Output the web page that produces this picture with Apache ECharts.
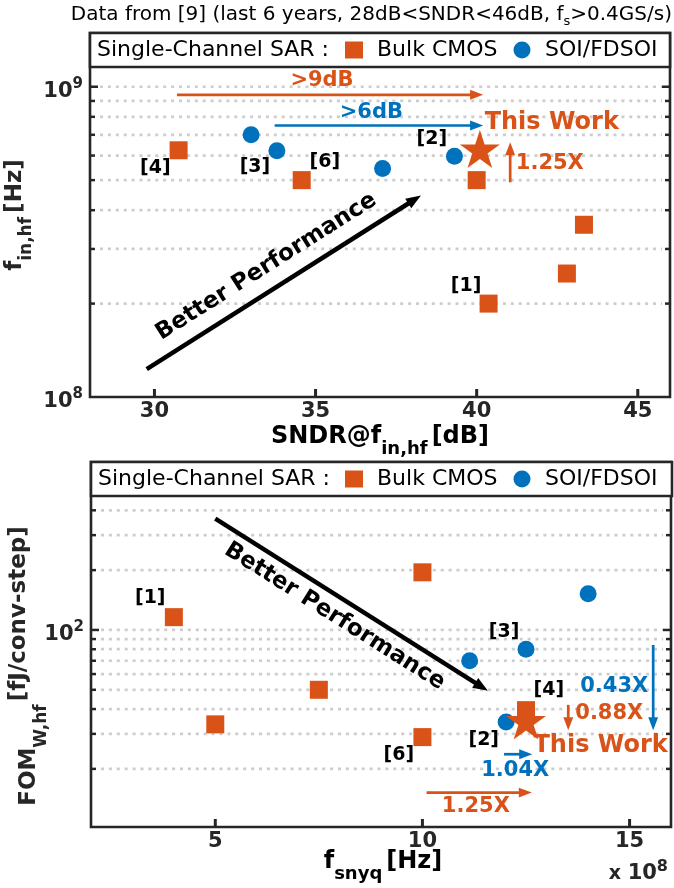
<!DOCTYPE html>
<html>
<head>
<meta charset="utf-8">
<script src="https://cdn.jsdelivr.net/npm/echarts@6/dist/echarts.min.js"></script>
<style>
  html, body { margin: 0; padding: 0; background: #fff; }
  #chart { width: 674px; height: 888px; }
</style>
</head>
<body>
<div id="chart"></div>
<script>
// top panel: f_in,hf [Hz] vs SNDR@f_in,hf [dB]
const topBulkSndr = [30.75, 34.57, 40.0, 43.33, 42.8, 40.37];
const topBulkFin  = [6.24e8, 5.0e8, 5.0e8, 3.59e8, 2.5e8, 2.0e8];
const topSoiSndr  = [33.0, 33.8, 37.08, 39.31];
const topSoiFin   = [7.0e8, 6.22e8, 5.45e8, 5.97e8];
const topWorkSndr = [40.1];
const topWorkFin  = [6.3e8];
const topXTicks   = [30, 35, 40, 45];
const topYGrid    = [2e8, 3e8, 4e8, 5e8, 6e8, 7e8, 8e8, 9e8, 1e9];

// bottom panel: FOM_W,hf [fJ/conv-step] vs f_snyq [Hz]
const botBulkFs  = [4.0e8, 10e8, 7.5e8, 5.0e8, 10e8, 12.5e8];
const botBulkFom = [116, 195, 50, 33.5, 28.9, 39.5];
const botSoiFs   = [14.0e8, 12.5e8, 11.14e8, 12.02e8];
const botSoiFom  = [152, 80, 70, 34.4];
const botWorkFs  = [12.5e8];
const botWorkFom = [35];
const botXTicks  = [5e8, 10e8, 15e8];
const botYGrid   = [20, 30, 40, 50, 60, 70, 80, 90, 100, 200, 300, 400];

const ORANGE = '#D95319';
const BLUE = '#0072BD';
const INK = '#262626';
const FONT = 'DejaVu Sans';
const STAR = 'path://M50 0L61.23 34.55L97.55 34.55L68.17 55.9L79.39 90.45L50 69.1L20.61 90.45L31.83 55.9L2.45 34.55L38.77 34.55Z';

// annotations (data coordinates)
const topArrows = [
  { from: [30.7, 9.42e8], to: [40.2, 9.42e8], color: ORANGE, width: 2.7, head: 13 },
  { from: [33.73, 7.5e8], to: [40.2, 7.5e8], color: BLUE, width: 2.7, head: 13 },
  { from: [41.04, 4.92e8], to: [41.04, 6.62e8], color: ORANGE, width: 2.7, head: 13 },
  { from: [29.76, 1.23e8], to: [38.27, 4.46e8], color: '#000', width: 4.5, head: 15 }
];
const topTexts = [
  { at: [35.2, 1.05e9], text: '>9dB', color: ORANGE, size: 21 },
  { at: [36.73, 8.24e8], text: '>6dB', color: BLUE, size: 21 },
  { at: [42.33, 7.66e8], text: 'This Work', color: ORANGE, size: 24 },
  { at: [42.27, 5.65e8], text: '1.25X', color: ORANGE, size: 21 },
  { at: [33.47, 2.63e8], text: 'Better Performance', color: '#000', size: 23, along: 3 },
  { at: [30.03, 5.47e8], text: '[4]', color: '#000', size: 19 },
  { at: [33.12, 5.5e8], text: '[3]', color: '#000', size: 19 },
  { at: [35.29, 5.72e8], text: '[6]', color: '#000', size: 19 },
  { at: [38.61, 6.76e8], text: '[2]', color: '#000', size: 19 },
  { at: [39.67, 2.285e8], text: '[1]', color: '#000', size: 19 }
];
const botArrows = [
  { from: [5.0e8, 363], to: [11.58e8, 49.4], color: '#000', width: 4.5, head: 15 },
  { from: [11.97e8, 23.7], to: [12.65e8, 23.7], color: BLUE, width: 2.7, head: 13 },
  { from: [10.1e8, 15.2], to: [12.64e8, 15.2], color: ORANGE, width: 2.7, head: 13 },
  { from: [13.52e8, 42], to: [13.52e8, 31.3], color: ORANGE, width: 2.7, head: 13 },
  { from: [15.57e8, 84], to: [15.57e8, 31.3], color: BLUE, width: 2.7, head: 13 }
];
const botTexts = [
  { at: [14.3e8, 26.2], text: 'This Work', color: ORANGE, size: 24 },
  { at: [12.24e8, 19.6], text: '1.04X', color: BLUE, size: 21 },
  { at: [11.29e8, 12.9], text: '1.25X', color: ORANGE, size: 21 },
  { at: [14.51e8, 37.8], text: '0.88X', color: ORANGE, size: 21 },
  { at: [14.63e8, 51.8], text: '0.43X', color: BLUE, size: 21 },
  { at: [7.88e8, 117], text: 'Better Performance', color: '#000', size: 23, along: 0 },
  { at: [3.43e8, 144], text: '[1]', color: '#000', size: 19 },
  { at: [11.97e8, 98], text: '[3]', color: '#000', size: 19 },
  { at: [13.05e8, 49.8], text: '[4]', color: '#000', size: 19 },
  { at: [11.48e8, 28], text: '[2]', color: '#000', size: 19 },
  { at: [9.43e8, 23.4], text: '[6]', color: '#000', size: 19 }
];

function zip(xs, ys) {
  return xs.map((x, i) => [x, ys[i]]);
}

function isPow10(v) {
  const e = Math.log10(v);
  return Math.abs(e - Math.round(e)) < 1e-6;
}

// dotted minor grid + inside ticks on both sides
function yGridSeries(idx, xMin, values) {
  return {
    type: 'custom', xAxisIndex: idx, yAxisIndex: idx, z: 1, silent: true, clip: false,
    data: values.map(v => [xMin, v]),
    renderItem: (params, api) => {
      const v = api.value(1);
      const y = api.coord([api.value(0), v])[1];
      const cs = params.coordSys;
      const len = isPow10(v) ? 8 : 5;
      const right = cs.x + cs.width;
      return {
        type: 'group',
        children: [
          { type: 'line', shape: { x1: cs.x + 10, y1: y, x2: right - 8, y2: y },
            style: { stroke: '#cdcdcd', lineWidth: 2.7, lineDash: [3, 4.9] } },
          { type: 'line', shape: { x1: cs.x, y1: y, x2: cs.x + len, y2: y },
            style: { stroke: INK, lineWidth: 2.5 } },
          { type: 'line', shape: { x1: right - len, y1: y, x2: right, y2: y },
            style: { stroke: INK, lineWidth: 2.5 } }
        ]
      };
    }
  };
}

function xTickSeries(idx, yMin, values) {
  return {
    type: 'custom', xAxisIndex: idx, yAxisIndex: idx, z: 1, silent: true, clip: false,
    data: values.map(v => [v, yMin]),
    renderItem: (params, api) => {
      const x = api.coord([api.value(0), api.value(1)])[0];
      const cs = params.coordSys;
      const b = cs.y + cs.height;
      return { type: 'line', shape: { x1: x, y1: b, x2: x, y2: b - 8 },
        style: { stroke: INK, lineWidth: 3 } };
    }
  };
}

function arrowSeries(idx, arrows) {
  return {
    type: 'custom', xAxisIndex: idx, yAxisIndex: idx, z: 5, silent: true, clip: false,
    data: arrows.map(a => a.from),
    renderItem: (params, api) => {
      const a = arrows[params.dataIndex];
      const p1 = api.coord(a.from);
      const p2 = api.coord(a.to);
      const dx = p2[0] - p1[0], dy = p2[1] - p1[1];
      const len = Math.hypot(dx, dy);
      const ux = dx / len, uy = dy / len;
      const w = a.head * 0.38;
      const bx = p2[0] - ux * a.head, by = p2[1] - uy * a.head;
      return {
        type: 'group',
        children: [
          { type: 'line', shape: { x1: p1[0], y1: p1[1], x2: bx + ux * 2, y2: by + uy * 2 },
            style: { stroke: a.color, lineWidth: a.width } },
          { type: 'polygon',
            shape: { points: [[p2[0], p2[1]], [bx - uy * w, by + ux * w], [bx + uy * w, by - ux * w]] },
            style: { fill: a.color } }
        ]
      };
    }
  };
}

function textSeries(idx, texts, arrows) {
  return {
    type: 'custom', xAxisIndex: idx, yAxisIndex: idx, z: 6, silent: true, clip: false,
    data: texts.map(t => t.at),
    renderItem: (params, api) => {
      const t = texts[params.dataIndex];
      const p = api.coord(t.at);
      let rot = 0;
      if (t.along != null) {
        const a = arrows[t.along];
        const p1 = api.coord(a.from), p2 = api.coord(a.to);
        rot = -Math.atan2(p2[1] - p1[1], p2[0] - p1[0]);
      }
      return {
        type: 'text', x: p[0], y: p[1], rotation: rot,
        style: { text: t.text, fill: t.color, fontSize: t.size, fontWeight: 'bold',
          fontFamily: FONT, align: 'center', verticalAlign: 'middle' }
      };
    }
  };
}

const tickLabel = {
  color: INK, fontSize: 21, fontWeight: 'bold', fontFamily: FONT, margin: 4
};
const powRich = {
  b: { fontSize: 21, fontWeight: 'bold', fontFamily: FONT, color: INK, lineHeight: 30 },
  s: { fontSize: 15, fontWeight: 'bold', fontFamily: FONT, color: INK, lineHeight: 12, verticalAlign: 'top' }
};
const yLabel = {
  margin: 7, padding: [9, 0, 0, 0], rich: powRich,
  formatter: v => isPow10(v) ? '{b|10}{s|' + Math.round(Math.log10(v)) + '}' : ''
};
const legendBase = {
  data: [{ name: 'Bulk CMOS', icon: 'rect' }, { name: 'SOI/FDSOI', icon: 'circle' }],
  left: 345, padding: 0, itemWidth: 18, itemHeight: 17, itemGap: 16, selectedMode: false, z: 60,
  textStyle: { fontSize: 22, fontFamily: FONT, color: '#000', lineHeight: 22, padding: [0, 0, 0, 9] }
};
const nameRich = {
  m: { fontSize: 24, fontWeight: 'bold', fontFamily: FONT, color: INK, lineHeight: 42 },
  s: { fontSize: 18, fontWeight: 'bold', fontFamily: FONT, color: INK, lineHeight: 18, verticalAlign: 'bottom' },
  g: { fontSize: 24, fontWeight: 'bold', fontFamily: FONT, color: INK, lineHeight: 42, padding: [0, 0, 0, 4] }
};

const option = {
  animation: false,
  backgroundColor: '#fff',
  grid: [
    { left: 90, top: 33, width: 580, height: 364, show: true, borderColor: INK, borderWidth: 2.6, backgroundColor: '#fff' },
    { left: 91, top: 462, width: 581, height: 365, show: true, borderColor: INK, borderWidth: 2.6, backgroundColor: '#fff' }
  ],
  legend: [
    Object.assign({}, legendBase, { top: 39 }),
    Object.assign({}, legendBase, { top: 468 })
  ],
  xAxis: [
    { type: 'value', gridIndex: 0, min: 28, max: 46, interval: 1,
      axisLine: { show: false }, axisTick: { show: false }, splitLine: { show: false },
      axisLabel: Object.assign({}, tickLabel, { formatter: v => v % 5 === 0 ? String(v) : '' }) },
    { type: 'value', gridIndex: 1, min: 2e8, max: 16e8, interval: 1e8,
      axisLine: { show: false }, axisTick: { show: false }, splitLine: { show: false },
      axisLabel: Object.assign({}, tickLabel, {
        formatter: v => { const n = Math.round(v / 1e8); return n % 5 === 0 ? String(n) : ''; } }) }
  ],
  yAxis: [
    { type: 'log', logBase: 10, gridIndex: 0, min: 1e8, max: 1.49e9,
      axisLine: { show: false }, axisTick: { show: false }, splitLine: { show: false },
      minorTick: { show: false }, axisLabel: yLabel },
    { type: 'log', logBase: 10, gridIndex: 1, min: 10.2, max: 700,
      axisLine: { show: false }, axisTick: { show: false }, splitLine: { show: false },
      minorTick: { show: false }, axisLabel: yLabel }
  ],
  series: [
    yGridSeries(0, 28, topYGrid),
    xTickSeries(0, 1e8, topXTicks),
    { name: 'Bulk CMOS', type: 'scatter', xAxisIndex: 0, yAxisIndex: 0, z: 3, symbol: 'rect', symbolSize: 18,
      itemStyle: { color: ORANGE, opacity: 1 }, data: zip(topBulkSndr, topBulkFin) },
    { name: 'SOI/FDSOI', type: 'scatter', xAxisIndex: 0, yAxisIndex: 0, z: 3, symbol: 'circle', symbolSize: 17,
      itemStyle: { color: BLUE, opacity: 1 }, data: zip(topSoiSndr, topSoiFin) },
    { name: 'This Work', type: 'scatter', xAxisIndex: 0, yAxisIndex: 0, z: 4, symbol: STAR, symbolSize: [40, 38],
      itemStyle: { color: ORANGE, opacity: 1 }, data: zip(topWorkSndr, topWorkFin) },
    arrowSeries(0, topArrows),
    textSeries(0, topTexts, topArrows),

    yGridSeries(1, 2e8, botYGrid),
    xTickSeries(1, 10.2, botXTicks),
    { name: 'Bulk CMOS', type: 'scatter', xAxisIndex: 1, yAxisIndex: 1, z: 3, symbol: 'rect', symbolSize: 18,
      itemStyle: { color: ORANGE, opacity: 1 }, data: zip(botBulkFs, botBulkFom) },
    { name: 'SOI/FDSOI', type: 'scatter', xAxisIndex: 1, yAxisIndex: 1, z: 3, symbol: 'circle', symbolSize: 17,
      itemStyle: { color: BLUE, opacity: 1 }, data: zip(botSoiFs, botSoiFom) },
    { name: 'This Work', type: 'scatter', xAxisIndex: 1, yAxisIndex: 1, z: 4, symbol: STAR, symbolSize: [40, 38],
      itemStyle: { color: ORANGE, opacity: 1 }, data: zip(botWorkFs, botWorkFom) },
    arrowSeries(1, botArrows),
    textSeries(1, botTexts, botArrows)
  ],
  graphic: { elements: [
    { type: 'text', x: 672, y: 15, z: 60,
      style: { text: '{t|Data from [9] (last 6 years, 28dB<SNDR<46dB, f}{u|s}{t|>0.4GS/s)}',
        align: 'right', verticalAlign: 'middle',
        rich: {
          t: { fontSize: 20, fontFamily: FONT, fill: '#000', lineHeight: 26 },
          u: { fontSize: 13, fontFamily: FONT, fill: '#000', lineHeight: 13, verticalAlign: 'bottom' }
        } } },
    // legend boxes
    { type: 'rect', z: 50, shape: { x: 90, y: 33, width: 580, height: 34 },
      style: { fill: '#fff', stroke: INK, lineWidth: 2.6 } },
    { type: 'text', z: 60, x: 97, y: 50,
      style: { text: 'Single-Channel SAR :', fontSize: 22, fontFamily: FONT, fill: '#000', verticalAlign: 'middle' } },
    { type: 'rect', z: 50, shape: { x: 91, y: 462, width: 581, height: 34 },
      style: { fill: '#fff', stroke: INK, lineWidth: 2.6 } },
    { type: 'text', z: 60, x: 98, y: 479,
      style: { text: 'Single-Channel SAR :', fontSize: 22, fontFamily: FONT, fill: '#000', verticalAlign: 'middle' } },
    // axis names
    { type: 'text', z: 60, x: 380, y: 437,
      style: { text: '{m|SNDR@f}{s|in,hf}{g|[dB]}', align: 'center', verticalAlign: 'middle', rich: nameRich } },
    { type: 'text', z: 60, x: 383, y: 862,
      style: { text: '{m|f}{s|snyq}{g|[Hz]}', align: 'center', verticalAlign: 'middle', rich: nameRich } },
    { type: 'text', z: 60, x: 15, y: 215, rotation: Math.PI / 2,
      style: { text: '{m|f}{s|in,hf}{g|[Hz]}', align: 'center', verticalAlign: 'middle',
        rich: {
          m: { fontSize: 23, fontWeight: 'bold', fontFamily: FONT, fill: INK, lineHeight: 40 },
          s: { fontSize: 17, fontWeight: 'bold', fontFamily: FONT, fill: INK, lineHeight: 17, verticalAlign: 'bottom' },
          g: { fontSize: 23, fontWeight: 'bold', fontFamily: FONT, fill: INK, lineHeight: 40, padding: [0, 0, 0, 4] }
        } } },
    { type: 'text', z: 60, x: 29, y: 666, rotation: Math.PI / 2,
      style: { text: '{m|FOM}{s|W,hf}{u|[fJ/conv-step]}', align: 'center', verticalAlign: 'middle',
        rich: {
          m: { fontSize: 23, fontWeight: 'bold', fontFamily: FONT, fill: INK, lineHeight: 42 },
          s: { fontSize: 17, fontWeight: 'bold', fontFamily: FONT, fill: INK, lineHeight: 17, verticalAlign: 'bottom' },
          u: { fontSize: 23, fontWeight: 'bold', fontFamily: FONT, fill: INK, lineHeight: 19, verticalAlign: 'top', padding: [0, 0, 0, 3] }
        } } },
    { type: 'text', z: 60, x: 668, y: 874,
      style: { text: '{x|x }{b|10}{p|8}', align: 'right', verticalAlign: 'middle',
        rich: {
          x: { fontSize: 19, fontWeight: 'bold', fontFamily: FONT, fill: INK, lineHeight: 30 },
          b: { fontSize: 21, fontWeight: 'bold', fontFamily: FONT, fill: INK, lineHeight: 30 },
          p: { fontSize: 16, fontWeight: 'bold', fontFamily: FONT, fill: INK, lineHeight: 10, verticalAlign: 'top' }
        } } }
  ] }
};

const chart = echarts.init(document.getElementById('chart'));
chart.setOption(option);
</script>
</body>
</html>
